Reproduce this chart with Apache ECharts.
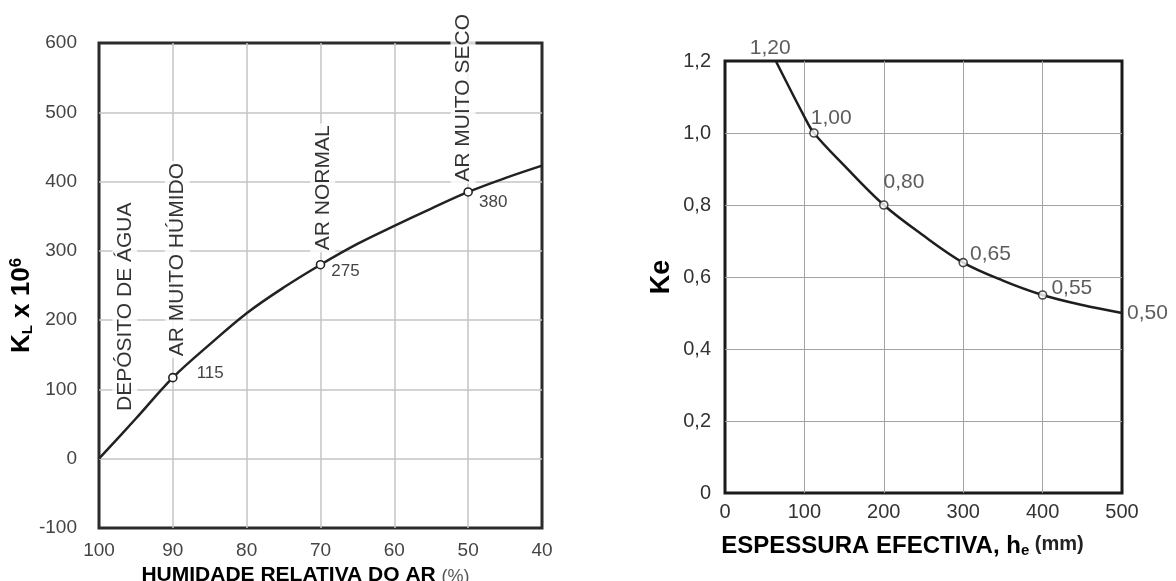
<!DOCTYPE html>
<html>
<head>
<meta charset="utf-8">
<script src="https://cdn.jsdelivr.net/npm/echarts@6/dist/echarts.min.js"></script>
<style>
  html, body { margin: 0; padding: 0; background: #fff; }
  #chart { width: 1176px; height: 581px; }
</style>
</head>
<body>
<div id="chart"></div>
<script>
// ---------- Left chart data: K_L x 10^6 vs relative humidity ----------
const humidity = [100, 95, 90, 85, 80, 75, 70, 65, 60, 55, 50, 45, 40];
const kL = [0, 58, 117, 165, 210, 247, 280, 310, 336, 361, 385, 405, 423];
const humMarkX = [90, 70, 50];
const humMarkY = [117, 280, 385];
const humMarkText = ['115', '275', '380'];
const humTicks = [100, 90, 80, 70, 60, 50, 40];
const kLTicks = [-100, 0, 100, 200, 300, 400, 500, 600];
const zoneNames = ['DEPÓSITO DE ÁGUA', 'AR MUITO HÚMIDO', 'AR NORMAL', 'AR MUITO SECO'];

// ---------- Right chart data: Ke vs effective thickness ----------
const thickness = [64, 100, 112, 150, 200, 250, 300, 350, 400, 450, 500];
const ke = [1.2, 1.045, 1.0, 0.91, 0.80, 0.715, 0.64, 0.59, 0.55, 0.522, 0.50];
const keMarkX = [64, 112, 200, 300, 400, 500];
const keMarkY = [1.2, 1.0, 0.8, 0.64, 0.55, 0.50];
const keMarkText = ['1,20', '1,00', '0,80', '0,65', '0,55', '0,50'];
const thickTicks = [0, 100, 200, 300, 400, 500];
const keTicks = [0, 0.2, 0.4, 0.6, 0.8, 1.0, 1.2];

const FONT = 'Liberation Sans, Arial, Helvetica, sans-serif';

// annotation anchors (data units) for the rotated zone labels
const zoneAnchor = [[96.5, 66], [89.4, 145], [69.7, 298], [50.7, 397]];

// label style per marked point
const humLabelOffset = [[14, -4], [1, 7], [1, 10]];
const keLabelOffset = [[-31, -13], [-13, -15], [-10, -23], [-3, -8], [-1, -7], [0, 0]];
const keHasMarker = [false, true, true, true, true, false];

const chart = echarts.init(document.getElementById('chart'), null, { renderer: 'canvas' });

const option = {
  backgroundColor: '#fff',
  animation: false,
  textStyle: { fontFamily: FONT },
  grid: [
    { left: 99, top: 43, width: 443, height: 485, outerBoundsMode: 'none', containLabel: false, show: true, borderColor: '#2b2b2b', borderWidth: 3, backgroundColor: 'transparent' },
    { left: 725, top: 61, width: 397, height: 432, outerBoundsMode: 'none', containLabel: false, show: true, borderColor: '#1a1a1a', borderWidth: 3, backgroundColor: 'transparent' }
  ],
  xAxis: [
    {
      gridIndex: 0, type: 'value', min: humTicks[humTicks.length - 1], max: humTicks[0], interval: 10, inverse: true,
      axisLine: { show: false }, axisTick: { show: false },
      axisLabel: { fontSize: 19, color: '#444', margin: 13, fontFamily: FONT },
      splitLine: { show: true, showMinLine: false, showMaxLine: false, lineStyle: { color: '#c4c4c4', width: 1.5 } },
      name: '{b|HUMIDADE RELATIVA DO AR }{p|(%)}',
      nameLocation: 'middle', nameGap: 37,
      nameTextStyle: {
        padding: [0, 30, 0, 0],
        rich: {
          b: { fontSize: 21, fontWeight: 'bold', color: '#000', fontFamily: FONT },
          p: { fontSize: 18, color: '#555', fontFamily: FONT, verticalAlign: 'bottom' }
        }
      }
    },
    {
      gridIndex: 1, type: 'value', min: thickTicks[0], max: thickTicks[thickTicks.length - 1], interval: 100,
      axisLine: { show: false }, axisTick: { show: false },
      axisLabel: { fontSize: 20, color: '#333', margin: 9, fontFamily: FONT },
      splitLine: { show: true, showMinLine: false, showMaxLine: false, lineStyle: { color: '#a3a3a3', width: 1 } },
      name: '{b|ESPESSURA EFECTIVA, h}{s|e}{u| (mm)}',
      nameLocation: 'middle', nameGap: 41,
      nameTextStyle: {
        padding: [0, 42, 0, 0],
        rich: {
          b: { fontSize: 24, fontWeight: 'bold', color: '#000', fontFamily: FONT, verticalAlign: 'bottom' },
          s: { fontSize: 15, fontWeight: 'bold', color: '#000', fontFamily: FONT, verticalAlign: 'bottom' },
          u: { fontSize: 20, fontWeight: 'bold', color: '#222', fontFamily: FONT, verticalAlign: 'top' }
        }
      }
    }
  ],
  yAxis: [
    {
      gridIndex: 0, type: 'value', min: kLTicks[0], max: kLTicks[kLTicks.length - 1], interval: 100,
      axisLine: { show: false }, axisTick: { show: false },
      axisLabel: { fontSize: 19, color: '#444', margin: 22, fontFamily: FONT },
      splitLine: { show: true, showMinLine: false, showMaxLine: false, lineStyle: { color: '#c4c4c4', width: 1.5 } },
      name: '{k|K}{sub|L}{k| x 10}{sup|6}',
      nameLocation: 'middle', nameRotate: 90, nameGap: 58,
      nameTextStyle: {
        padding: [0, 40, 0, 0],
        rich: {
          k: { fontSize: 26, fontWeight: 'bold', color: '#000', fontFamily: FONT, lineHeight: 28, verticalAlign: 'middle' },
          sub: { fontSize: 15, fontWeight: 'bold', color: '#000', fontFamily: FONT, verticalAlign: 'bottom', padding: [0, 0, 1, 0] },
          sup: { fontSize: 17, fontWeight: 'bold', color: '#000', fontFamily: FONT, verticalAlign: 'top' }
        }
      }
    },
    {
      gridIndex: 1, type: 'value', min: keTicks[0], max: keTicks[keTicks.length - 1], interval: 0.2,
      axisLine: { show: false }, axisTick: { show: false },
      axisLabel: {
        fontSize: 20, color: '#333', margin: 14, fontFamily: FONT,
        formatter: v => (Math.abs(v) < 1e-9 ? '0' : v.toFixed(1).replace('.', ','))
      },
      splitLine: { show: true, showMinLine: false, showMaxLine: false, lineStyle: { color: '#a3a3a3', width: 1 } },
      name: 'Ke',
      nameLocation: 'middle', nameRotate: 90, nameGap: 50,
      nameTextStyle: { fontSize: 27, fontWeight: 'bold', color: '#000', fontFamily: FONT }
    }
  ],
  series: [
    {
      type: 'line', xAxisIndex: 0, yAxisIndex: 0,
      data: humidity.map((h, i) => [h, kL[i]]),
      smooth: 0.35, symbol: 'none', clip: false,
      lineStyle: { color: '#222', width: 2.5 }, z: 3
    },
    {
      type: 'scatter', xAxisIndex: 0, yAxisIndex: 0,
      data: humMarkX.map((h, i) => ({
        value: [h, humMarkY[i]],
        label: { offset: humLabelOffset[i] }
      })),
      symbol: 'circle', symbolSize: 8,
      itemStyle: { color: '#fff', borderColor: '#222', borderWidth: 1.6, opacity: 1 },
      label: {
        show: true, position: 'right', distance: 5,
        formatter: p => humMarkText[p.dataIndex],
        fontSize: 17, color: '#444', fontFamily: FONT
      },
      z: 4
    },
    {
      type: 'scatter', xAxisIndex: 0, yAxisIndex: 0,
      data: zoneNames.map((n, i) => ({ value: zoneAnchor[i], name: n })),
      symbol: 'circle', symbolSize: 0.01,
      itemStyle: { color: 'rgba(0,0,0,0)' },
      label: {
        show: true, position: 'inside', rotate: 90,
        align: 'left', verticalAlign: 'middle',
        formatter: p => p.name,
        fontSize: 21, color: '#000', fontFamily: FONT,
        backgroundColor: '#fff', padding: [2, 2, 2, 2]
      },
      z: 6
    },
    {
      type: 'line', xAxisIndex: 1, yAxisIndex: 1,
      data: thickness.map((t, i) => [t, ke[i]]),
      smooth: 0.35, symbol: 'none', clip: false,
      lineStyle: { color: '#1e1e1e', width: 2.5 }, z: 3
    },
    {
      type: 'scatter', xAxisIndex: 1, yAxisIndex: 1,
      data: keMarkX.map((t, i) => ({
        value: [t, keMarkY[i]],
        symbolSize: keHasMarker[i] ? 8 : 0.01,
        itemStyle: keHasMarker[i] ? {} : { color: 'rgba(0,0,0,0)', borderWidth: 0 },
        label: { offset: keLabelOffset[i] }
      })),
      symbol: 'circle',
      itemStyle: { color: '#fff', borderColor: '#1e1e1e', borderWidth: 1.6 },
      label: {
        show: true, position: 'right', distance: 5,
        formatter: p => keMarkText[p.dataIndex],
        fontSize: 21, color: '#333', fontFamily: FONT
      },
      z: 4
    }
  ]
};

chart.setOption(option);
</script>
</body>
</html>
